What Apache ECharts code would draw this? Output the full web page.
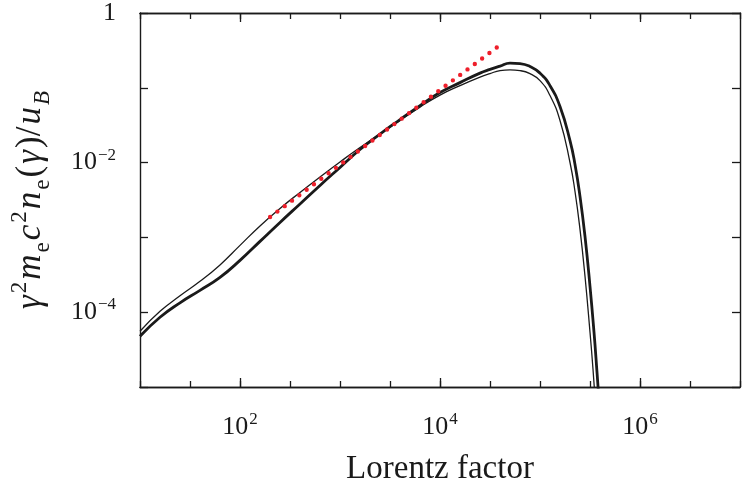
<!DOCTYPE html>
<html><head><meta charset="utf-8">
<script src="https://cdn.jsdelivr.net/npm/echarts@6/dist/echarts.min.js"></script>
<style>html,body{margin:0;padding:0;background:#fff}#c{width:742px;height:482px}</style>
</head><body><div id="c"></div>
<script>
// ---- data ----
// Lorentz factors: every 0.2 decade up to 10^4.4, then finer near the peak / cut-off
const gammaGrid = [10, 15.85, 25.12, 39.81, 63.10, 100, 158.5, 251.2, 398.1, 631.0,
  1000, 1585, 2512, 3981, 6310, 10000, 15849, 25119, 31623, 39811,
  50119, 63096, 79433, 100000, 125893, 158489, 199526, 223872, 251189, 281838, 316228];
// thick curve
const thickGammaTail = [346737, 371535, 398107];
const thickValue = [4.76e-5, 8.55e-5, 1.335e-4, 1.96e-4, 2.92e-4, 4.93e-4, 8.85e-4, 1.585e-3, 2.80e-3, 4.95e-3,
  8.61e-3, 1.496e-2, 2.41e-2, 3.76e-2, 5.78e-2, 8.63e-2, 0.1173, 0.1571, 0.1760, 0.1949,
  0.2137, 0.2110, 0.1930, 0.1571, 0.1070, 5.61e-2, 1.97e-2, 9.43e-3, 3.53e-3, 1.031e-3, 2.22e-4,
  5.40e-5, 1.58e-5, 4.34e-6];
// thin curve
const thinGammaTail = [338844, 363078];
const thinValue = [5.56e-5, 1.028e-4, 1.656e-4, 2.585e-4, 4.29e-4, 7.82e-4, 1.424e-3, 2.44e-3, 3.99e-3, 6.42e-3,
  1.019e-2, 1.59e-2, 2.41e-2, 3.65e-2, 5.52e-2, 7.99e-2, 0.1070, 0.1390, 0.1549, 0.1697,
  0.1734, 0.1697, 0.1549, 0.1248, 7.87e-2, 3.65e-2, 1.003e-2, 4.11e-3, 1.28e-3, 3.02e-4, 5.40e-5,
  1.73e-5, 4.75e-6];
// red dotted power law (end points)
const dotGamma = [200, 37600];
const dotValue = [1.87e-3, 0.3516];
const xLabelExps = [2, 4, 6];
const yLabelExps = [0, -2, -4];
const xMajorTicks = [1e2, 1e4, 1e6];
const xName = 'Lorentz factor';

// ---- chart ----
const FONT = 'Liberation Serif';
const INK = '#1a1a1a';
const pairs = (g, v) => g.map((x, i) => [x, v[i]]);
const thickGamma = gammaGrid.concat(thickGammaTail);
const thinGamma = gammaGrid.concat(thinGammaTail);
function powLabel(e) {
  if (e === 0) return '{b|1}';
  return '{b|10}{s|' + String(e).replace('-', '\u2212') + '}';
}
const rich = {
  b: {fontFamily: FONT, fontSize: 26, color: INK, lineHeight: 32},
  s: {fontFamily: FONT, fontSize: 17, color: INK, verticalAlign: 'top', lineHeight: 18, padding: [0, 0, 0, 1]}
};
const axisLine = {show: true, onZero: false, lineStyle: {color: INK, width: 1.4}};
function xAxis(pos, major, showLabel) {
  const a = {
    type: 'log', logBase: 10, min: 10, max: 1e7, interval: 0.5, position: pos,
    axisLine: axisLine, splitLine: {show: false}, minorTick: {show: false},
    axisTick: {show: true, inside: true, length: major ? 9 : 6, lineStyle: {color: INK, width: 1.3}},
    axisLabel: {show: false}
  };
  if (major) a.axisTick.customValues = xMajorTicks;
  if (showLabel) {
    a.axisLabel = {show: true, margin: 24, rich: rich,
      formatter: v => { const e = Math.round(Math.log10(v) * 2) / 2; return xLabelExps.includes(e) ? powLabel(e) : ''; }};
    a.name = xName; a.nameLocation = 'middle'; a.nameGap = 66;
    a.nameTextStyle = {fontFamily: FONT, fontSize: 33, color: INK};
  }
  return a;
}
function yAxis(pos, showLabel) {
  const a = {
    type: 'log', logBase: 10, min: 1e-5, max: 1, interval: 1, position: pos,
    axisLine: axisLine, splitLine: {show: false}, minorTick: {show: false},
    axisTick: {show: true, inside: true, length: 8, lineStyle: {color: INK, width: 1.3}},
    axisLabel: {show: false}
  };
  if (showLabel) {
    a.axisLabel = {show: true, margin: 24, rich: rich,
      formatter: v => { const e = Math.round(Math.log10(v)); return yLabelExps.includes(e) ? powLabel(e) : ''; }};
    a.name = '{i|\u03b3}{p|2}{i|m}{d|e}{i|c}{p|2}{i|n}{d|e}{r|(}{i|\u03b3}{r|)/}{i|u}{q|B}';
    a.nameLocation = 'middle'; a.nameRotate = 90; a.nameGap = 86;
    const pad = [0, 1, 0, 1];
    a.nameTextStyle = {rich: {
      i: {fontFamily: FONT, fontStyle: 'italic', fontSize: 35, color: INK, lineHeight: 46, padding: pad},
      r: {fontFamily: FONT, fontSize: 35, color: INK, lineHeight: 46, padding: pad},
      p: {fontFamily: FONT, fontSize: 23, color: INK, verticalAlign: 'top', lineHeight: 24, padding: pad},
      d: {fontFamily: FONT, fontSize: 23, color: INK, verticalAlign: 'bottom', lineHeight: 32, padding: pad},
      q: {fontFamily: FONT, fontStyle: 'italic', fontSize: 23, color: INK, verticalAlign: 'bottom', lineHeight: 32, padding: pad}
    }};
  }
  return a;
}
const chart = echarts.init(document.getElementById('c'), null, {renderer: 'canvas'});
chart.setOption({
  animation: false,
  backgroundColor: '#fff',
  grid: {left: 140, right: 2, top: 13, bottom: 95, containLabel: false, outerBoundsMode: 'none'},
  xAxis: [xAxis('bottom', false, true), xAxis('top', false, false), xAxis('bottom', true, false), xAxis('top', true, false)],
  yAxis: [yAxis('left', true), yAxis('right', false)],
  series: [
    {type: 'line', data: pairs(thinGamma, thinValue), showSymbol: false, smooth: 0.5, clip: true,
      lineStyle: {color: INK, width: 1.3}},
    {type: 'line', data: pairs(thickGamma, thickValue), showSymbol: false, smooth: 0.5, clip: true,
      lineStyle: {color: INK, width: 2.8}},
    {type: 'line', data: pairs(dotGamma, dotValue), showSymbol: false, clip: true, z: 5,
      lineStyle: {color: '#ee1f2b', width: 4.4, type: [0, 9.13], cap: 'round'}}
  ]
});
</script></body></html>
